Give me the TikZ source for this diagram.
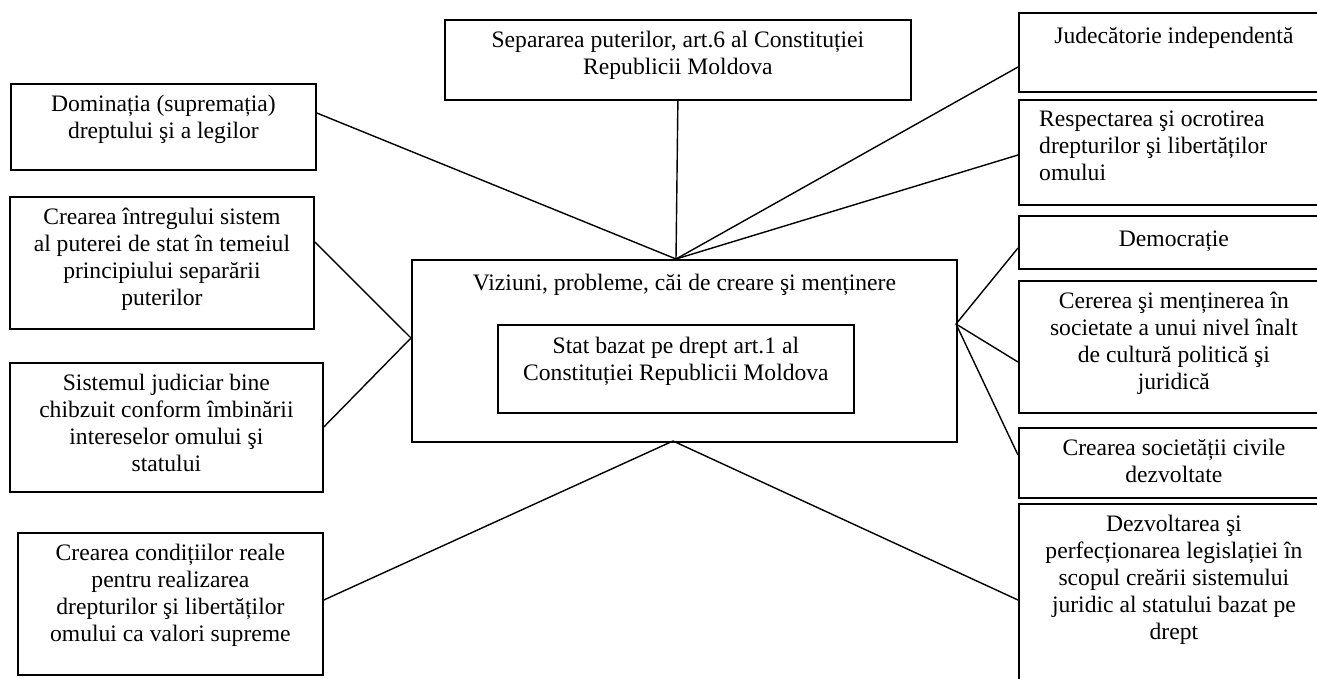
\documentclass[tikz,border=0pt]{standalone}
\usepackage{fontspec}
\setmainfont{Liberation Serif}
\usetikzlibrary{calc}
\begin{document}
\begin{tikzpicture}[x=1pt,y=-1pt]
\tikzset{
 box/.style={draw, line width=1.8pt, inner sep=0pt, anchor=north west},
 txt/.style={inner sep=0pt, align=center, font=\fontsize{23.6}{27}\selectfont, execute at begin node=\strut},
 txtl/.style={txt, align=left},
 link/.style={line width=1.4pt},
}
\useasboundingbox (0,0) rectangle (1317,679);
\clip (0,0) rectangle (1317,679);
% boxes
\node[box, minimum width=466pt, minimum height=80pt] (sep) at (444,19) {};
\node[box, minimum width=545pt, minimum height=182pt] (viz) at (411,259) {};
\node[box, minimum width=356pt, minimum height=88pt] (stat) at (497,324) {};
\node[box, minimum width=305pt, minimum height=86pt] (dom) at (10,83) {};
\node[box, minimum width=304pt, minimum height=132pt] (ci) at (9,196) {};
\node[box, minimum width=313pt, minimum height=129pt] (sj) at (9,362) {};
\node[box, minimum width=305pt, minimum height=142pt] (cc) at (17,532) {};
\node[box, minimum width=310pt, minimum height=79pt] (jud) at (1018,12) {};
\node[box, minimum width=310pt, minimum height=105pt] (resp) at (1018,99) {};
\node[box, minimum width=310pt, minimum height=53pt] (dem) at (1018,215) {};
\node[box, minimum width=310pt, minimum height=132pt] (cer) at (1018,280) {};
\node[box, minimum width=310pt, minimum height=70pt] (cs) at (1018,427) {};
\node[box, minimum width=310pt, minimum height=197pt] (dez) at (1018,503) {};
% texts
\node[txt, anchor=north] (sepT) at ([yshift=-12pt]sep.north) {Separarea puterilor, art.6 al Constituției\\Republicii Moldova};
\node[txt, anchor=north] (vizT) at ([yshift=-12pt]viz.north) {Viziuni, probleme, căi de creare şi menținere};
\node[txt, anchor=north] (statT) at ([yshift=-13pt]stat.north) {Stat bazat pe drept art.1 al\\Constituției Republicii Moldova};
\node[txt, anchor=north] (domT) at ([yshift=-12pt]dom.north) {Dominația (supremația)\\dreptului şi a legilor};
\node[txt, anchor=north] (ciT) at ([yshift=-12pt]ci.north) {Crearea întregului sistem\\al puterei de stat în temeiul\\principiului separării\\puterilor};
\node[txt, anchor=north] (sjT) at ([yshift=-12pt]sj.north) {Sistemul judiciar bine\\chibzuit conform îmbinării\\intereselor omului şi\\statului};
\node[txt, anchor=north] (ccT) at ([yshift=-12pt]cc.north) {Crearea condițiilor reale\\pentru realizarea\\drepturilor şi libertăților\\omului ca valori supreme};
\node[txt, anchor=north] (judT) at ([yshift=-12pt]jud.north) {Judecătorie independentă};
\node[txtl, anchor=north west] (respT) at ([xshift=21pt,yshift=-12pt]resp.north west) {Respectarea şi ocrotirea\\drepturilor şi libertăților\\omului};
\node[txt, anchor=north] (demT) at ([yshift=-12pt]dem.north) {Democrație};
\node[txt, anchor=north] (cerT) at ([yshift=-12pt]cer.north) {Cererea şi menținerea în\\societate a unui nivel înalt\\de cultură politică şi\\juridică};
\node[txt, anchor=north] (csT) at ([yshift=-12pt]cs.north) {Crearea societății civile\\dezvoltate};
\node[txt, anchor=north] (dezT) at ([yshift=-12pt]dez.north) {Dezvoltarea şi\\perfecționarea legislației în\\scopul creării sistemului\\juridic al statului bazat pe\\drept};
% hubs
\coordinate (hubT) at (676,259);
\coordinate (hubL) at (411,338);
\coordinate (hubR) at (956,324);
\coordinate (hubB) at (673,441);
% connectors
\draw[link] (sep.south) -- (hubT);
\draw[link] ($(dom.north east)+(0,30)$) -- (hubT);
\draw[link] ($(jud.north west)+(0,55)$) -- (hubT);
\draw[link] ($(resp.north west)+(0,56)$) -- (hubT);
\draw[link] ($(ci.north east)+(0,46)$) -- (hubL);
\draw[link] ($(sj.north east)+(0,65)$) -- (hubL);
\draw[link] ($(cc.north east)+(0,68)$) -- (hubB);
\draw[link] ($(dez.north west)+(0,97)$) -- (hubB);
\draw[link] ($(dem.north west)+(0,33)$) -- (hubR);
\draw[link] ($(cer.north west)+(0,82)$) -- (hubR);
\draw[link] ($(cs.north west)+(0,28)$) -- (hubR);
\end{tikzpicture}
\end{document}
